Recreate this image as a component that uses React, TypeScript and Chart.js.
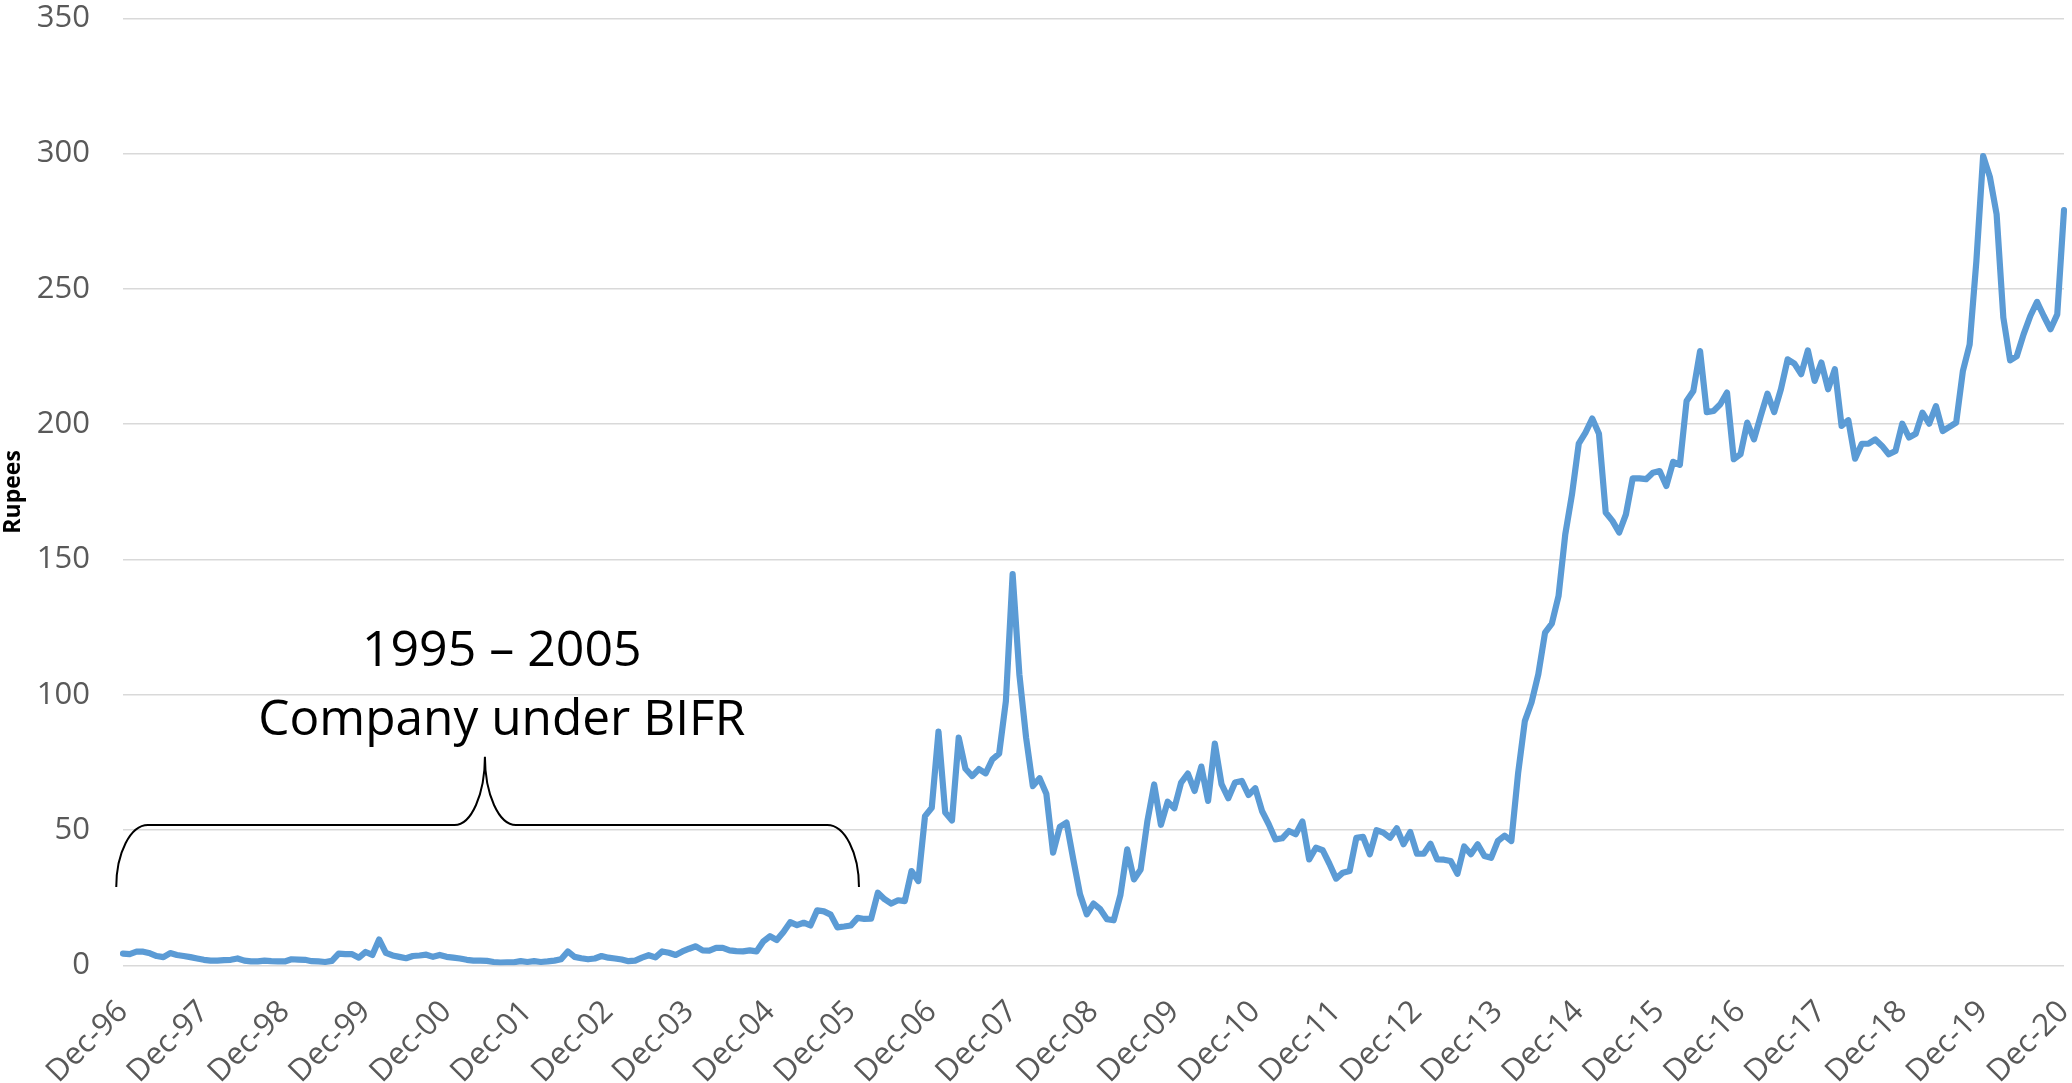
import React, { useEffect, useRef } from 'react';
import { Chart, registerables } from 'chart.js';

Chart.register(...registerables);

// Month categories from Dec-96 to Dec-20 (monthly)
const MONTH_NAMES = ['Jan', 'Feb', 'Mar', 'Apr', 'May', 'Jun', 'Jul', 'Aug', 'Sep', 'Oct', 'Nov', 'Dec'];
const START_YEAR = 1996;
const START_MONTH = 11; // December
const MONTH_COUNT = 289;
const categories: string[] = [];
for (let i = 0; i < MONTH_COUNT; i++) {
  const m = (START_MONTH + i) % 12;
  const y = START_YEAR + Math.floor((START_MONTH + i) / 12);
  categories.push(`${MONTH_NAMES[m]}-${String(y % 100).padStart(2, '0')}`);
}

// Tick labels shown on the x axis
const xTickLabels = [
  'Dec-96', 'Dec-97', 'Dec-98', 'Dec-99', 'Dec-00', 'Dec-01', 'Dec-02', 'Dec-03', 'Dec-04',
  'Dec-05', 'Dec-06', 'Dec-07', 'Dec-08', 'Dec-09', 'Dec-10', 'Dec-11', 'Dec-12', 'Dec-13',
  'Dec-14', 'Dec-15', 'Dec-16', 'Dec-17', 'Dec-18', 'Dec-19', 'Dec-20',
];

// Share price (Rupees), monthly
const prices = [
  4.4, 4.2, 5.1, 5.1, 4.5, 3.5, 3.1, 4.6, 3.9, 3.5, 3.1, 2.6,
  2.1, 1.8, 1.8, 2.0, 2.1, 2.6, 1.8, 1.5, 1.5, 1.8, 1.6, 1.5,
  1.5, 2.3, 2.2, 2.1, 1.6, 1.5, 1.3, 1.7, 4.4, 4.2, 4.2, 2.9,
  5.0, 3.9, 9.6, 4.7, 3.7, 3.2, 2.7, 3.5, 3.7, 4.0, 3.2, 3.9,
  3.2, 2.9, 2.6, 2.1, 1.8, 1.8, 1.7, 1.3, 1.1, 1.2, 1.2, 1.6,
  1.3, 1.6, 1.3, 1.5, 1.8, 2.3, 5.2, 3.2, 2.7, 2.3, 2.6, 3.5,
  2.9, 2.6, 2.2, 1.6, 1.8, 2.9, 3.8, 3.0, 5.2, 4.7, 3.9, 5.2,
  6.2, 7.1, 5.6, 5.5, 6.5, 6.5, 5.6, 5.3, 5.2, 5.6, 5.2, 8.9,
  10.8, 9.4, 12.4, 16.0, 14.9, 15.8, 14.8, 20.4, 20.0, 18.8, 14.1, 14.4,
  14.8, 17.6, 17.2, 17.3, 26.9, 24.5, 22.9, 24.1, 23.8, 34.9, 31.2, 55.2,
  58.3, 86.4, 56.5, 53.6, 84.2, 72.7, 70.0, 72.6, 71.0, 76.2, 78.3, 97.7,
  144.6, 107.6, 84.2, 66.3, 69.2, 63.5, 41.7, 51.2, 52.8, 39.2, 26.3, 18.9,
  22.9, 20.8, 17.1, 16.7, 26.1, 42.9, 31.8, 35.5, 53.4, 66.9, 52.0, 60.5,
  58.1, 67.6, 70.9, 64.5, 73.5, 60.8, 82.0, 67.0, 61.8, 67.6, 68.2, 63.0,
  65.5, 57.1, 52.2, 46.6, 47.0, 49.7, 48.5, 53.2, 39.2, 43.5, 42.6, 37.6,
  32.1, 34.3, 34.9, 47.2, 47.5, 41.1, 50.0, 49.1, 47.2, 50.7, 44.8, 49.3,
  41.3, 41.3, 45.0, 39.2, 39.1, 38.6, 33.9, 44.0, 41.1, 44.8, 40.5, 39.8,
  46.0, 48.0, 46.0, 71.0, 90.3, 97.3, 107.6, 123.0, 126.3, 136.5, 159.3, 174.1,
  192.8, 196.9, 202.1, 196.5, 167.4, 164.3, 160.0, 166.7, 180.0, 180.0, 179.7, 182.1,
  182.7, 177.2, 186.1, 185.0, 208.6, 212.3, 227.0, 204.5, 204.9, 207.4, 211.7, 187.1,
  188.9, 200.6, 194.4, 203.1, 211.3, 204.5, 213.0, 224.0, 222.4, 218.5, 227.3, 216.0,
  222.8, 212.9, 220.3, 199.4, 201.5, 187.3, 192.8, 192.8, 194.4, 192.0, 188.9, 190.1,
  200.2, 195.1, 196.5, 204.3, 200.2, 206.7, 197.5, 199.0, 200.6, 219.7, 229.5, 260.3,
  299.1, 291.4, 277.6, 239.4, 223.6, 225.2, 233.2, 240.0, 245.2, 240.0, 235.1, 240.6, 279.1,
];

// Annotation texts
const annotationLines = ['1995 \u2013 2005', 'Company under BIFR'];

const FONT = "'Open Sans', 'Noto Sans', sans-serif";

const braceAnnotation = {
  id: 'braceAnnotation',
  afterDraw(chart: any) {
    const { ctx } = chart;
    const xs = chart.scales.x;
    const ys = chart.scales.y;
    const X = (v: number) => xs.getPixelForValue(v);
    const Y = (v: number) => ys.getPixelForValue(v);

    const xL = X(-1.0), xL2 = X(3.7), xM1 = X(49.2), xTip = X(53.7), xM2 = X(58.3), xR2 = X(104.5), xR = X(109.2);
    const yB = Y(29.0), yH = Y(51.9), yTip = Y(77.1);
    const k = 0.55;

    ctx.save();
    ctx.strokeStyle = '#000000';
    ctx.lineWidth = 2;
    ctx.beginPath();
    ctx.moveTo(xL, yB);
    ctx.bezierCurveTo(xL, yB - (yB - yH) * k, xL2 - (xL2 - xL) * k, yH, xL2, yH);
    ctx.lineTo(xM1, yH);
    ctx.bezierCurveTo(xM1 + (xTip - xM1) * k, yH, xTip, yTip + (yH - yTip) * k, xTip, yTip);
    ctx.bezierCurveTo(xTip, yTip + (yH - yTip) * k, xM2 - (xM2 - xTip) * k, yH, xM2, yH);
    ctx.lineTo(xR2, yH);
    ctx.bezierCurveTo(xR2 + (xR - xR2) * k, yH, xR, yB - (yB - yH) * k, xR, yB);
    ctx.stroke();

    ctx.fillStyle = '#000000';
    ctx.textAlign = 'center';
    ctx.textBaseline = 'alphabetic';
    ctx.font = `50px ${FONT}`;
    const cx = X(56.2);
    ctx.fillText(annotationLines[0], cx, Y(110.7), 285);
    ctx.fillText(annotationLines[1], cx, Y(85.0), 487);
    ctx.restore();
  },
};

export default function App() {
  const canvasRef = useRef<HTMLCanvasElement | null>(null);

  useEffect(() => {
    if (!canvasRef.current) return;
    const chart = new Chart(canvasRef.current, {
      type: 'line',
      data: {
        labels: categories,
        datasets: [
          {
            label: 'Rupees',
            data: prices,
            borderColor: '#5B9BD5',
            backgroundColor: '#5B9BD5',
            borderWidth: 6.2,
            pointRadius: 0,
            pointHoverRadius: 0,
            tension: 0,
            fill: false,
            borderJoinStyle: 'round',
            borderCapStyle: 'round',
          },
        ],
      },
      options: {
        responsive: false,
        maintainAspectRatio: false,
        animation: false,
        devicePixelRatio: 1,
        layout: { padding: { top: 18.3, right: 8, left: 0, bottom: 0 } },
        plugins: {
          legend: { display: false },
          tooltip: { enabled: false },
          title: { display: false },
        },
        scales: {
          x: {
            type: 'category',
            offset: false,
            grid: { display: false, drawTicks: false },
            border: { display: false },
            ticks: {
              autoSkip: false,
              maxRotation: 45,
              minRotation: 45,
              padding: 28,
              color: '#595959',
              font: { family: FONT, size: 31 },
              callback: (_v: any, idx: number) => {
                const lab = categories[idx];
                return xTickLabels.includes(lab) ? lab : '';
              },
            },
            afterFit: (scale: any) => {
              scale.height = 117.5;
              scale.paddingLeft = 0;
              scale.paddingRight = 0;
            },
          },
          y: {
            min: 0,
            max: 350,
            ticks: {
              stepSize: 50,
              padding: 33,
              color: '#595959',
              font: { family: FONT, size: 31, lineHeight: 1.1 },
            },
            grid: { color: '#D9D9D9', lineWidth: 1.6, drawTicks: false },
            border: { display: false },
            title: {
              display: true,
              text: 'Rupees',
              color: '#000000',
              font: { family: FONT, size: 23, weight: 'bold', lineHeight: 1.2 },
              padding: 0,
            },
            afterFit: (scale: any) => {
              scale.width = 123;
              scale.paddingTop = 0;
              scale.paddingBottom = 0;
            },
          },
        },
      },
      plugins: [braceAnnotation],
    });
    return () => chart.destroy();
  }, []);

  return (
    <div style={{ position: 'fixed', left: 0, top: 0, width: 2072, height: 1083, background: '#ffffff' }}>
      <canvas ref={canvasRef} width={2072} height={1083} style={{ width: 2072, height: 1083, display: 'block' }} />
    </div>
  );
}
